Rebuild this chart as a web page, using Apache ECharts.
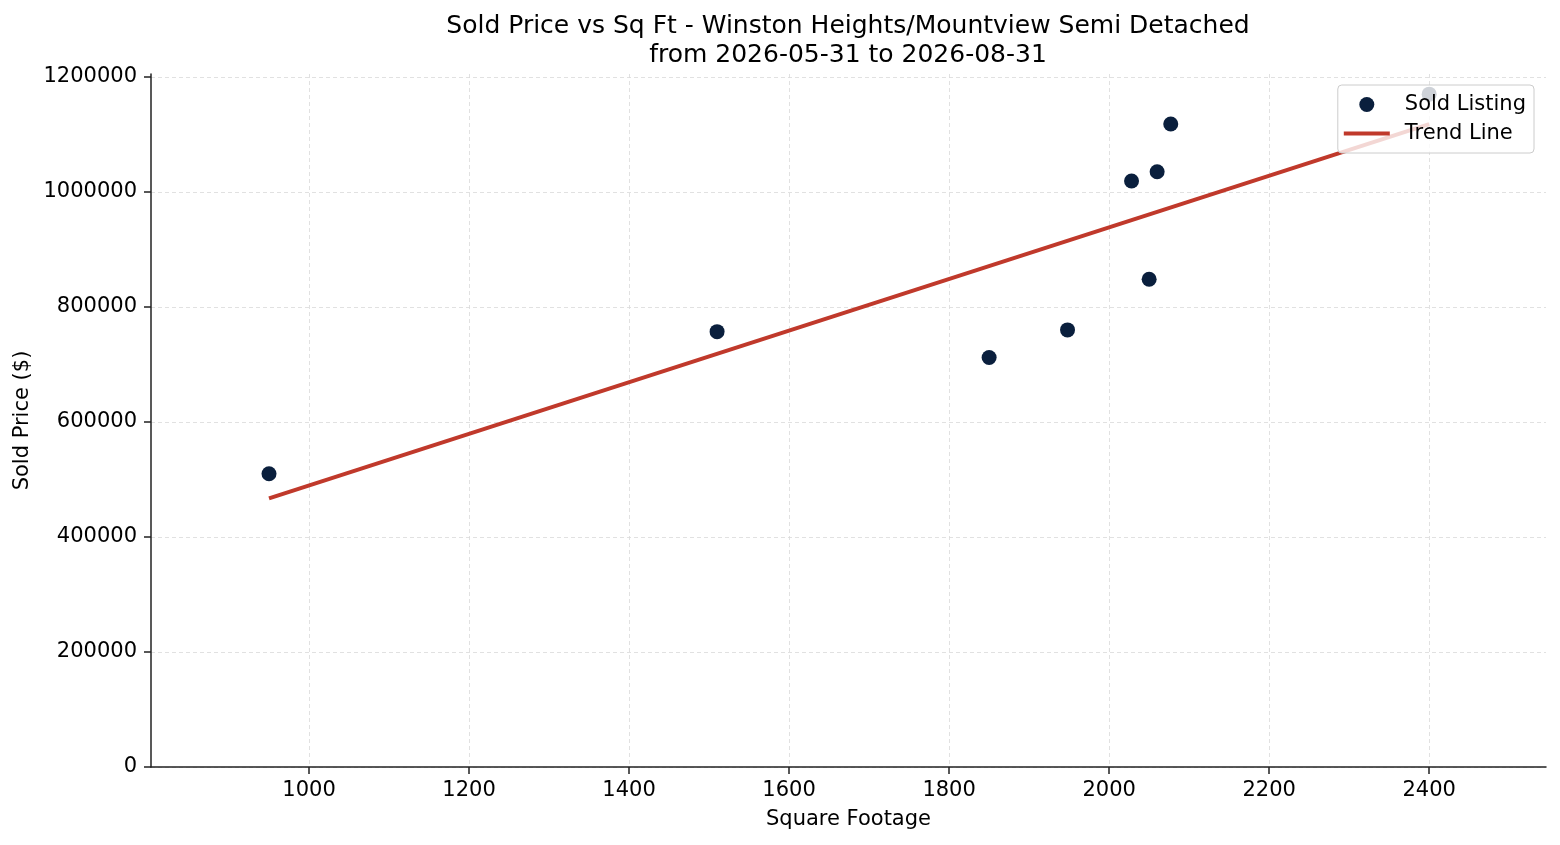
<!DOCTYPE html>
<html>
<head>
<meta charset="utf-8">
<script src="https://cdn.jsdelivr.net/npm/echarts@6/dist/echarts.min.js"></script>
<style>
  html, body { margin: 0; padding: 0; background: #fff; }
  #chart { width: 1560px; height: 845px; }
</style>
</head>
<body>
<div id="chart"></div>
<script>
// sold listings (sq ft, sold price)
const sqft = [950, 1510, 1850, 1948, 2028, 2050, 2060, 2077, 2400];
const price = [510000, 757000, 712000, 760000, 1019000, 848000, 1035000, 1118000, 1170000];

// trend line end points
const trendX = [950, 2400];
const trendY = [467000, 1118000];

const xTicks = [1000, 1200, 1400, 1600, 1800, 2000, 2200, 2400];
const yTicks = [0, 200000, 400000, 600000, 800000, 1000000, 1200000];

const titleLines = [
  'Sold Price vs Sq Ft - Winston Heights/Mountview Semi Detached',
  'from 2026-05-31 to 2026-08-31'
];

const FONT = '"DejaVu Sans", sans-serif';
const gridLine = { show: true, lineStyle: { color: '#d9d9d9', width: 0.8, type: [4, 3] } };
const plain = v => String(v);

const chart = echarts.init(document.getElementById('chart'), null, { renderer: 'canvas' });

const option = {
  backgroundColor: '#fff',
  animation: false,
  textStyle: { fontFamily: FONT },
  graphic: titleLines.map((t, i) => ({
    type: 'text',
    x: 848,
    y: 26 + i * 29,
    style: {
      text: t,
      fill: '#000',
      font: '25px ' + FONT,
      textAlign: 'center',
      textVerticalAlign: 'middle'
    }
  })),
  grid: { left: 151, right: 14, top: 74, bottom: 78, containLabel: false },
  legend: {
    orient: 'vertical',
    right: 26,
    top: 85,
    padding: [9, 8, 9, 6],
    itemWidth: 46,
    itemHeight: 15,
    itemGap: 8,
    backgroundColor: 'rgba(255,255,255,0.8)',
    borderColor: '#cccccc',
    borderWidth: 1,
    borderRadius: 4,
    textStyle: { fontSize: 21, color: '#000', fontFamily: FONT, padding: [0, 0, 0, 10] },
    data: [
      { name: 'Sold Listing', icon: 'circle' },
      { name: 'Trend Line', icon: 'path://M0,0H46V4H0Z' }
    ]
  },
  xAxis: {
    type: 'value',
    min: 802.5,
    max: 2546,
    name: 'Square Footage',
    nameLocation: 'middle',
    nameGap: 42,
    nameTextStyle: { fontSize: 21, color: '#000', fontFamily: FONT },
    axisLine: { show: true, onZero: false, lineStyle: { color: '#222', width: 1.5 } },
    axisTick: { show: true, length: 7, inside: false, customValues: xTicks, lineStyle: { color: '#222', width: 1.5 } },
    axisLabel: { customValues: xTicks, formatter: plain, fontSize: 21, color: '#000', margin: 13, fontFamily: FONT },
    splitLine: gridLine
  },
  yAxis: {
    type: 'value',
    min: 0,
    max: 1205000,
    name: 'Sold Price ($)',
    nameLocation: 'middle',
    nameGap: 114,
    nameTextStyle: { fontSize: 21, color: '#000', fontFamily: FONT },
    axisLine: { show: true, onZero: false, lineStyle: { color: '#222', width: 1.5 } },
    axisTick: { show: true, length: 7, inside: false, customValues: yTicks, lineStyle: { color: '#222', width: 1.5 } },
    axisLabel: { customValues: yTicks, formatter: plain, fontSize: 21, color: '#000', margin: 14, fontFamily: FONT },
    splitLine: gridLine
  },
  series: [
    {
      name: 'Trend Line',
      type: 'line',
      data: trendX.map((x, i) => [x, trendY[i]]),
      symbol: 'none',
      lineStyle: { color: '#c0392b', width: 4 },
      itemStyle: { color: '#c0392b' },
      z: 2
    },
    {
      name: 'Sold Listing',
      type: 'scatter',
      data: sqft.map((x, i) => [x, price[i]]),
      symbolSize: 15,
      itemStyle: { color: '#0a1f3d', opacity: 1 },
      z: 3
    }
  ]
};

chart.setOption(option);
</script>
</body>
</html>
